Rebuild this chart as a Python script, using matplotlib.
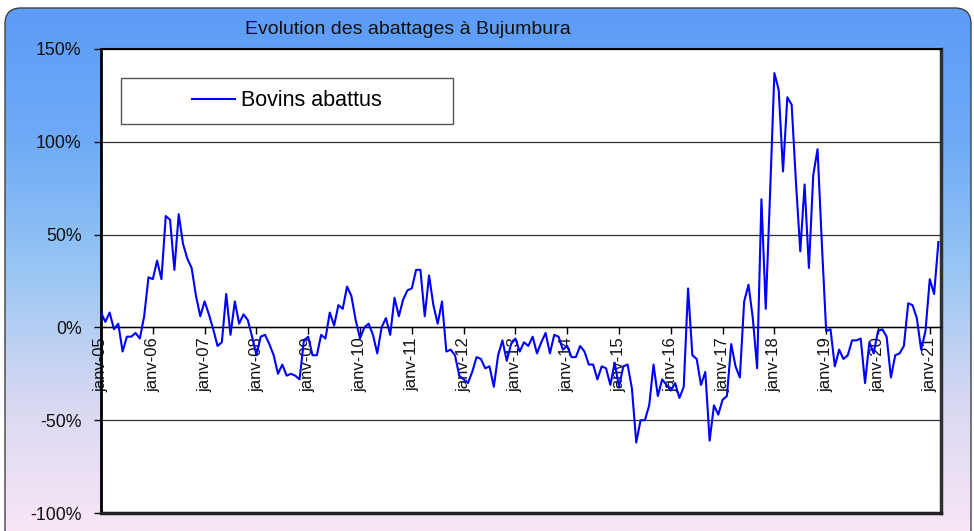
import numpy as np
import matplotlib
matplotlib.use("Agg")
from matplotlib import pyplot as plt
from matplotlib.patches import FancyBboxPatch, Rectangle
from matplotlib.colors import LinearSegmentedColormap

plt.rcParams['font.family'] = ['Liberation Sans', 'DejaVu Sans']

# monthly change of cattle slaughtered, janv-05 .. mars-21 (%)
bovins_abattus = [
    8, 3, 8, -1, 2, -13, -5, -5, -3, -6, 6, 27,
    26, 36, 26, 60, 58, 31, 61, 45, 37, 32, 17, 6,
    14, 7, -1, -10, -8, 18, -4, 14, 2, 7, 4, -5,
    -15, -5, -4, -9, -15, -25, -20, -26, -25, -26, -28, -7,
    -5, -15, -15, -4, -6, 8, 1, 12, 10, 22, 17, 4,
    -6, 0, 2, -4, -14, 0, 5, -4, 16, 6, 15, 20,
    21, 31, 31, 6, 28, 12, 2, 14, -13, -12, -15, -26,
    -28, -30, -24, -16, -17, -22, -21, -32, -15, -7, -18, -9,
    -6, -13, -8, -10, -5, -14, -8, -3, -14, -4, -5, -12,
    -10, -16, -16, -10, -13, -20, -20, -28, -21, -22, -31, -19,
    -32, -21, -20, -33, -62, -50, -50, -42, -20, -37, -28, -31,
    -34, -30, -38, -32, 21, -15, -17, -31, -24, -61, -42, -47,
    -39, -37, -9, -21, -27, 14, 23, 5, -22, 69, 10, 72,
    137, 128, 84, 124, 120, 78, 41, 77, 32, 82, 96, 45,
    -2, -1, -21, -12, -17, -15, -7, -7, -6, -30, -8, -14,
    -2, -1, -5, -27, -15, -14, -10, 13, 12, 5, -12, -2,
    26, 18, 46,
]
years = list(range(5, 22))
tick_labels = ["janv-%02d" % y for y in years]
y_ticks = [-100, -50, 0, 50, 100, 150]

W, H = 974, 531
fig = plt.figure(figsize=(W / 100, H / 100), dpi=100)

# background panel with vertical gradient and rounded corners
bg = fig.add_axes([0, 0, 1, 1], zorder=0)
bg.set_xlim(0, W)
bg.set_ylim(H, 0)
bg.axis('off')
cmap = LinearSegmentedColormap.from_list(
    "bg", [(0.0, "#5c9cf8"), (0.25, "#6eaaf6"), (0.5, "#98c6f4"),
           (0.75, "#d8d8f2"), (1.0, "#f8e6f6")])
grad = np.linspace(0, 1, 256).reshape(-1, 1)
panel = FancyBboxPatch((5, 8), 966, 560, boxstyle="round,pad=0,rounding_size=16",
                       facecolor='none', edgecolor='#404040', lw=1.0)
bg.add_patch(panel)
img = bg.imshow(grad, cmap=cmap, aspect='auto', extent=(5, 971, 531, 8))
img.set_clip_path(panel)

fig.text(408 / W, 1 - 29 / H, "Evolution des abattages à Bujumbura",
         ha='center', va='center', fontsize=14, color='#111111')

ax = fig.add_axes([101 / W, 18 / H, 840 / W, 464 / H], zorder=1)
ax.set_facecolor('white')

ax.spines['bottom'].set_position(('data', 0))
ax.spines['bottom'].set_linewidth(1.0)
ax.spines['left'].set_linewidth(2.0)
ax.spines['top'].set_linewidth(1.5)
ax.spines['right'].set_linewidth(2.5)
ax.spines['right'].set_color('#303030')

x = np.arange(len(bovins_abattus))
ax.plot(x, bovins_abattus, color='#0000ff', lw=1.5, label="Bovins abattus", zorder=3)

ax.set_xlim(0, 194.6)
ax.set_ylim(-100, 150)
ax.set_yticks(y_ticks)
ax.set_yticklabels(["%d%%" % v for v in y_ticks], fontsize=12.8)
ax.grid(axis='y', color='#333333', lw=0.9)
ax.tick_params(axis='y', direction='out', length=5, width=1, pad=9, colors='#111111')

ax.set_xticks(x[::12])
ax.set_xticklabels(tick_labels, rotation=90, fontsize=12, color='#111111')
ax.tick_params(axis='x', direction='out', length=5, width=1, pad=2)

ax.plot([0, 1], [0, 0], transform=ax.transAxes, color='#222222', lw=2.5,
        clip_on=False, zorder=4)

# legend box
ax.add_patch(Rectangle((0.0238, 0.838), 0.395, 0.0995, transform=ax.transAxes,
                       facecolor='white', edgecolor='#555555', lw=1.0, zorder=4))
ax.legend(loc='center', bbox_to_anchor=(0.2214, 0.888), frameon=False,
          fontsize=15.5, handlelength=2.0, handletextpad=0.3).set_zorder(5)

fig.savefig("out.png", dpi=100)
